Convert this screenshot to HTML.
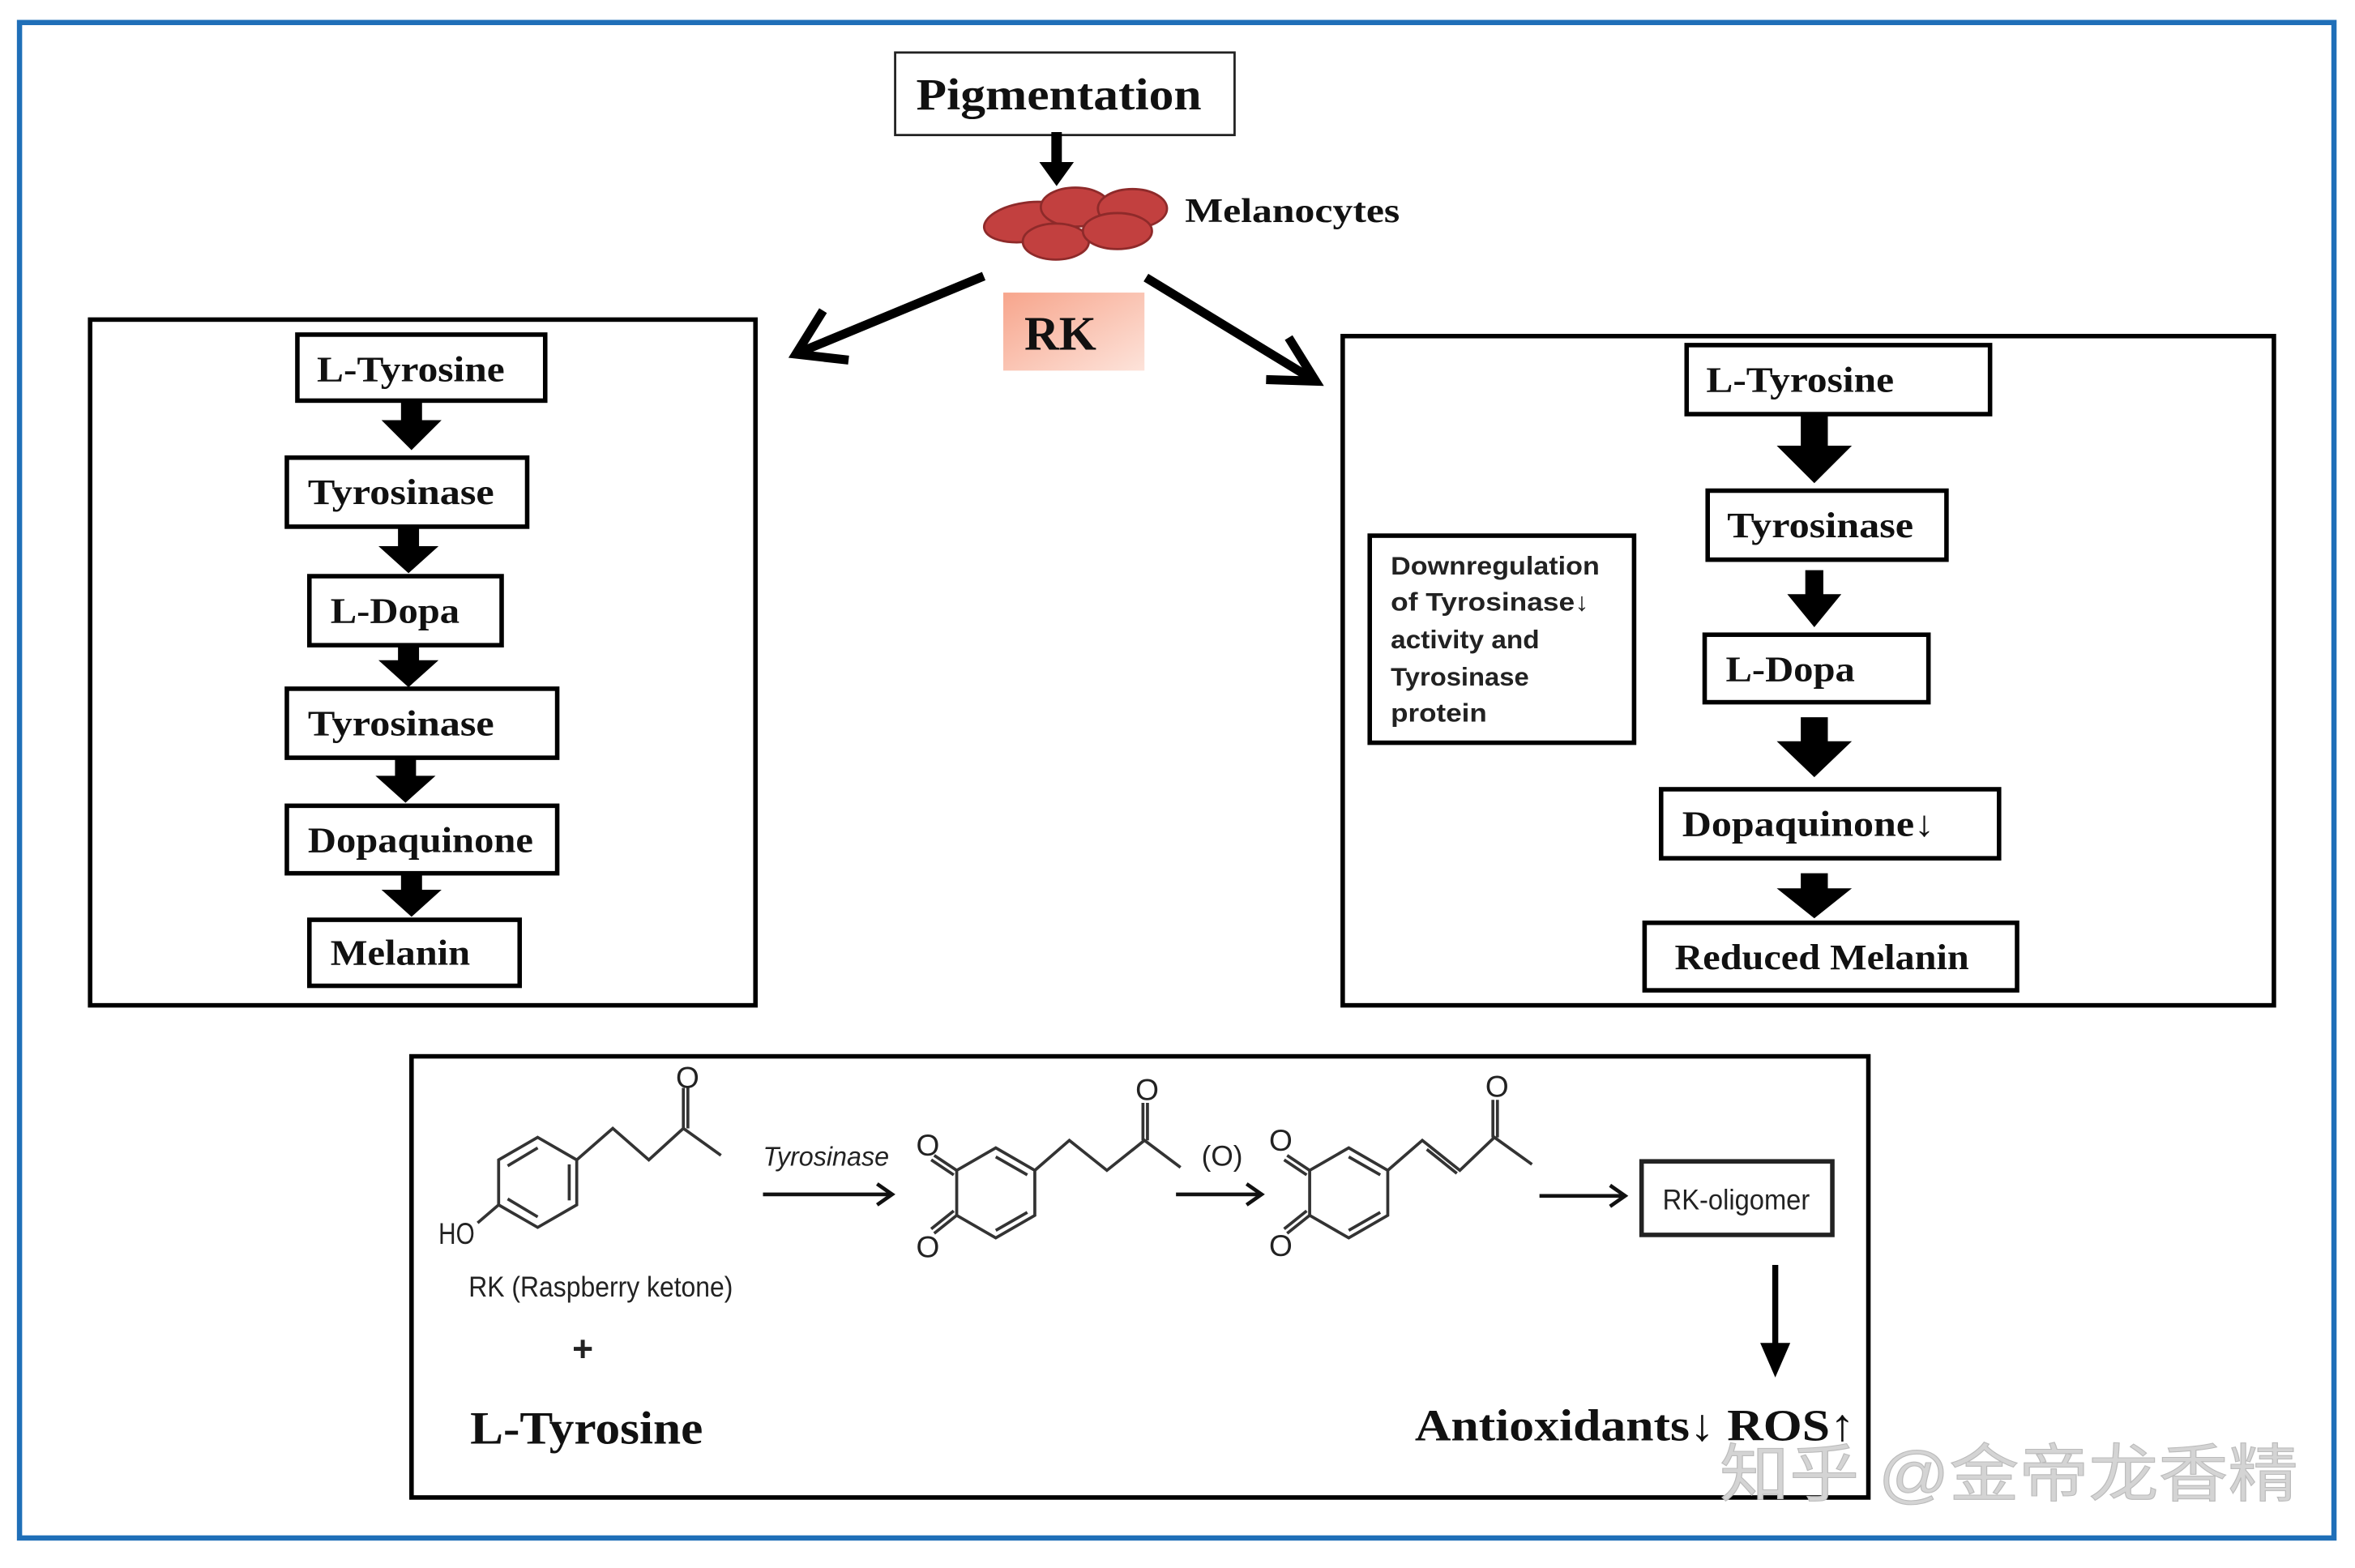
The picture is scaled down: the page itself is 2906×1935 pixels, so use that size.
<!DOCTYPE html>
<html><head><meta charset="utf-8"><style>
html,body{margin:0;padding:0;background:#fff;}
svg{display:block;}
.b{font-family:"Liberation Serif",serif;font-weight:bold;fill:#111;}
.s{font-family:"Liberation Sans",sans-serif;fill:#222;}
</style></head><body>
<svg width="2906" height="1935" viewBox="0 0 1568 1045" preserveAspectRatio="none" xmlns="http://www.w3.org/2000/svg">
<defs>
<linearGradient id="g" x1="0" y1="0" x2="1" y2="1"><stop offset="0" stop-color="#f7a58c"/><stop offset="1" stop-color="#fde3da"/></linearGradient>
</defs>
<rect x="0" y="0" width="1568" height="1045" fill="#fff"/>
<rect x="13" y="15" width="1541" height="1010" fill="none" stroke="#1f6fb8" stroke-width="3.5"/>

<!-- top -->
<rect x="596" y="35" width="226" height="55" fill="#fff" stroke="#222" stroke-width="1.5"/>
<text class="b" x="610" y="73" font-size="30" textLength="190" lengthAdjust="spacingAndGlyphs">Pigmentation</text>
<path d="M700,88 h7 v20 h8 l-11.5,16 l-11.5,-16 h8 z" fill="#000"/>
<g fill="#c2403f" stroke="#8e2a2a" stroke-width="1.5">
<ellipse cx="684" cy="148" rx="29" ry="13" transform="rotate(-8 684 148)"/>
<ellipse cx="716" cy="138" rx="23" ry="13"/>
<ellipse cx="754" cy="139" rx="23" ry="13"/>
<ellipse cx="703" cy="161" rx="22" ry="12"/>
<ellipse cx="744" cy="154" rx="23" ry="12"/>
</g>
<text class="b" x="789" y="148" font-size="23" textLength="143" lengthAdjust="spacingAndGlyphs">Melanocytes</text>
<rect x="668" y="195" width="94" height="52" fill="url(#g)"/>
<text class="b" x="706" y="233" font-size="32" text-anchor="middle">RK</text>
<g stroke="#000" stroke-width="6" fill="none" stroke-linecap="butt">
<line x1="655" y1="184" x2="532" y2="235"/>
<polyline points="548,207 530,236 565,240"/>
<line x1="763" y1="185" x2="876" y2="254"/>
<polyline points="858,225 876,254 843,253"/>
</g>

<!-- left box -->
<rect x="60" y="213" width="443" height="457" fill="none" stroke="#000" stroke-width="3"/>
<g fill="#fff" stroke="#000" stroke-width="3">
<rect x="198" y="223" width="165" height="44"/>
<rect x="191" y="305" width="160" height="46"/>
<rect x="206" y="384" width="128" height="46"/>
<rect x="191" y="459" width="180" height="46"/>
<rect x="191" y="537" width="180" height="45"/>
<rect x="206" y="613" width="140" height="44"/>
</g>
<g class="b" font-size="24">
<text x="211" y="254" textLength="125" lengthAdjust="spacingAndGlyphs">L-Tyrosine</text>
<text x="205" y="336" textLength="124" lengthAdjust="spacingAndGlyphs">Tyrosinase</text>
<text x="220" y="415" textLength="86" lengthAdjust="spacingAndGlyphs">L-Dopa</text>
<text x="205" y="490" textLength="124" lengthAdjust="spacingAndGlyphs">Tyrosinase</text>
<text x="205" y="568" textLength="150" lengthAdjust="spacingAndGlyphs">Dopaquinone</text>
<text x="220" y="643" textLength="93" lengthAdjust="spacingAndGlyphs">Melanin</text>
</g>
<g fill="#000">
<path d="M267,268 h14 v12 h13 l-20,20 l-20,-20 h13 z"/>
<path d="M265,352 h14 v12 h13 l-20,18 l-20,-18 h13 z"/>
<path d="M265,430 h14 v10 h13 l-20,18 l-20,-18 h13 z"/>
<path d="M263,506 h14 v11 h13 l-20,18 l-20,-18 h13 z"/>
<path d="M267,583 h14 v10 h13 l-20,18 l-20,-18 h13 z"/>
</g>

<!-- right box -->
<rect x="894" y="224" width="620" height="446" fill="none" stroke="#000" stroke-width="3"/>
<g fill="#fff" stroke="#000" stroke-width="3">
<rect x="1123" y="230" width="202" height="46"/>
<rect x="1137" y="327" width="159" height="46"/>
<rect x="1135" y="423" width="149" height="45"/>
<rect x="1106" y="526" width="225" height="46"/>
<rect x="1095" y="615" width="248" height="45"/>
<rect x="912" y="357" width="176" height="138"/>
</g>
<g class="b" font-size="24">
<text x="1136" y="261" textLength="125" lengthAdjust="spacingAndGlyphs">L-Tyrosine</text>
<text x="1150" y="358" textLength="124" lengthAdjust="spacingAndGlyphs">Tyrosinase</text>
<text x="1149" y="454" textLength="86" lengthAdjust="spacingAndGlyphs">L-Dopa</text>
<text x="1120" y="557" textLength="168" lengthAdjust="spacingAndGlyphs">Dopaquinone↓</text>
<text x="1115" y="646" textLength="196" lengthAdjust="spacingAndGlyphs">Reduced Melanin</text>
</g>
<g class="s" font-size="17" font-weight="bold" fill="#333">
<text x="926" y="383" textLength="139" lengthAdjust="spacingAndGlyphs">Downregulation</text>
<text x="926" y="407" textLength="132" lengthAdjust="spacingAndGlyphs">of Tyrosinase↓</text>
<text x="926" y="432" textLength="99" lengthAdjust="spacingAndGlyphs">activity and</text>
<text x="926" y="457" textLength="92" lengthAdjust="spacingAndGlyphs">Tyrosinase</text>
<text x="926" y="481" textLength="64" lengthAdjust="spacingAndGlyphs">protein</text>
</g>
<g fill="#000">
<path d="M1199,277 h18 v20 h16 l-25,25 l-25,-25 h16 z"/>
<path d="M1202,380 h12 v16 h12 l-18,22 l-18,-22 h12 z"/>
<path d="M1199,478 h18 v16 h16 l-25,24 l-25,-24 h16 z"/>
<path d="M1199,582 h18 v10 h16 l-25,20 l-25,-20 h16 z"/>
</g>

<!-- bottom box -->
<rect x="274" y="704" width="970" height="294" fill="none" stroke="#000" stroke-width="3"/>
<g stroke="#333" stroke-width="2" fill="none">
<polygon points="358,758 384,773 384,803 358,818 332,803 332,773"/>
<line x1="338" y1="777" x2="358" y2="765"/>
<line x1="338" y1="799" x2="358" y2="811"/>
<line x1="379" y1="776" x2="379" y2="800"/>
<polyline points="384,773 408,752 432,773 455,752 480,770"/>
<line x1="455" y1="752" x2="455" y2="725"/>
<line x1="458" y1="752" x2="458" y2="725"/>
<line x1="332" y1="803" x2="318" y2="815"/>
<polygon points="663,765 689,780 689,810 663,825 637,810 637,780"/>
<line x1="663" y1="771" x2="684" y2="783"/>
<line x1="684" y1="808" x2="663" y2="820"/>
<line x1="637" y1="780" x2="622" y2="770"/><line x1="635" y1="783" x2="620" y2="773"/>
<line x1="637" y1="810" x2="622" y2="822"/><line x1="635" y1="807" x2="620" y2="819"/>
<polyline points="689,780 712,760 737,780 762,760 786,778"/>
<line x1="761" y1="760" x2="761" y2="735"/><line x1="764" y1="760" x2="764" y2="735"/>
<polygon points="898,765 924,780 924,810 898,825 872,810 872,780"/>
<line x1="898" y1="771" x2="919" y2="783"/>
<line x1="919" y1="808" x2="898" y2="820"/>
<line x1="872" y1="780" x2="857" y2="770"/><line x1="870" y1="783" x2="855" y2="773"/>
<line x1="872" y1="810" x2="857" y2="822"/><line x1="870" y1="807" x2="855" y2="819"/>
<polyline points="924,780 947,760 972,780 995,758 1020,776"/>
<line x1="950" y1="766" x2="970" y2="782"/>
<line x1="994" y1="758" x2="994" y2="733"/><line x1="997" y1="758" x2="997" y2="733"/>
</g>
<g class="s" font-size="20" fill="#222">
<text x="292" y="829" textLength="24" lengthAdjust="spacingAndGlyphs">HO</text>
<text x="450" y="725">O</text>
<text x="610" y="770">O</text>
<text x="610" y="838">O</text>
<text x="756" y="733">O</text>
<text x="845" y="767">O</text>
<text x="845" y="837">O</text>
<text x="989" y="731">O</text>
</g>
<text class="s" x="312" y="864" font-size="19" textLength="176" lengthAdjust="spacingAndGlyphs">RK (Raspberry ketone)</text>
<text class="s" x="388" y="907" font-size="24" font-weight="bold" text-anchor="middle">+</text>
<text class="b" x="313" y="962" font-size="31" textLength="155" lengthAdjust="spacingAndGlyphs">L-Tyrosine</text>
<text class="s" x="508" y="777" font-size="18" font-style="italic" textLength="84" lengthAdjust="spacingAndGlyphs">Tyrosinase</text>
<text class="s" x="800" y="777" font-size="19">(O)</text>
<g stroke="#111" stroke-width="2.5" fill="none">
<line x1="508" y1="796" x2="592" y2="796"/><polyline points="584,789 594,796 584,803"/>
<line x1="783" y1="796" x2="838" y2="796"/><polyline points="830,789 840,796 830,803"/>
<line x1="1025" y1="797" x2="1080" y2="797"/><polyline points="1072,790 1082,797 1072,804"/>
</g>
<rect x="1093" y="774" width="127" height="49" fill="#fff" stroke="#222" stroke-width="3"/>
<text class="s" x="1107" y="806" font-size="19" textLength="98" lengthAdjust="spacingAndGlyphs">RK-oligomer</text>
<line x1="1182" y1="843" x2="1182" y2="900" stroke="#000" stroke-width="4"/>
<path d="M1172,895 h20 l-10,23 z" fill="#000"/>
<text class="b" x="942" y="960" font-size="30" textLength="293" lengthAdjust="spacingAndGlyphs">Antioxidants↓ ROS↑</text>
<text x="1145" y="997" font-size="42" font-family="Liberation Sans,'Noto Sans CJK SC',sans-serif" fill="#d4d4d4" stroke="#bbb" stroke-width="0.6" textLength="385" lengthAdjust="spacingAndGlyphs">知乎 @金帝龙香精</text>
</svg>
</body></html>
